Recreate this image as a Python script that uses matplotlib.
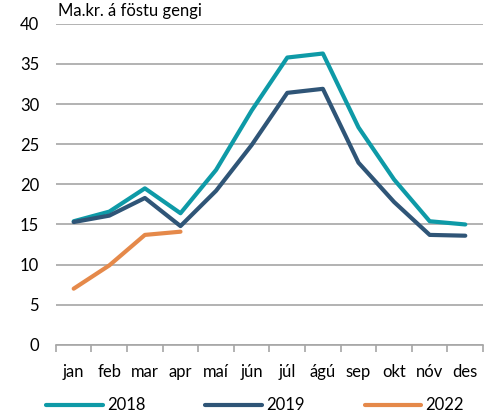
import matplotlib.pyplot as plt
import numpy as np

plt.rcParams['font.family'] = ['Lato', 'DejaVu Sans']

months = ['jan', 'feb', 'mar', 'apr', 'maí', 'jún', 'júl', 'ágú', 'sep', 'okt', 'nóv', 'des']
v2018 = [15.4, 16.6, 19.5, 16.4, 21.8, 29.2, 35.8, 36.3, 27.1, 20.6, 15.4, 15.0]
v2019 = [15.3, 16.1, 18.3, 14.8, 19.2, 24.9, 31.4, 31.9, 22.7, 17.8, 13.7, 13.6]
v2022 = [7.0, 9.9, 13.7, 14.1]

fig = plt.figure(figsize=(4.86, 4.18), dpi=100)
ax = fig.add_axes([0.115, 0.175, 0.879, 0.768])

x = np.arange(len(months))
ax.plot(x, v2018, color='#0E9AA7', lw=3, label='2018', solid_capstyle='round')
ax.plot(x, v2019, color='#2F5577', lw=3, label='2019', solid_capstyle='round')
ax.plot(x[:len(v2022)], v2022, color='#E5894A', lw=3, label='2022', solid_capstyle='round')

ax.set_ylim(0, 40)
ax.set_xlim(-0.5, 11.5)
ax.set_yticks(range(0, 41, 5))
ax.yaxis.grid(True, color='#A6A6A6', lw=1.2)
ax.set_axisbelow(True)
ax.tick_params(axis='y', length=0, labelsize=12, pad=12)
ax.set_xticks(x)
ax.set_xticklabels(months)
ax.set_xticks(np.arange(-0.5, 12, 1), minor=True)
ax.tick_params(axis='x', which='major', length=0, labelsize=12, pad=14)
ax.tick_params(axis='x', which='minor', length=5, color='#A6A6A6', width=1.2)
for s in ['top', 'right', 'left']:
    ax.spines[s].set_visible(False)
ax.spines['bottom'].set_color('#A6A6A6')
ax.spines['bottom'].set_linewidth(1.2)

ax.text(0.005, 1.015, 'Ma.kr. á föstu gengi', transform=ax.transAxes, fontsize=12, ha='left', va='bottom')

fig.legend(loc='lower center', bbox_to_anchor=(0.525, -0.025), ncol=3, frameon=False,
           handlelength=3.4, columnspacing=3.6, handletextpad=0.25, fontsize=12)

fig.savefig('out.png', dpi=100)
